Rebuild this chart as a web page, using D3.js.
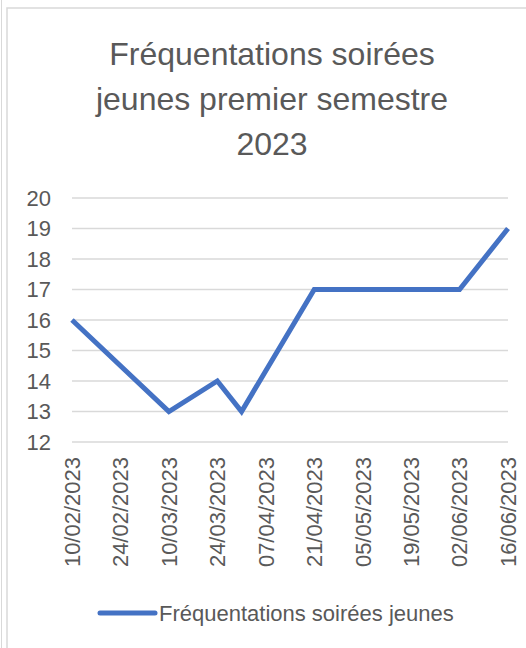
<!DOCTYPE html>
<html>
<head>
<meta charset="utf-8">
<script src="https://cdn.jsdelivr.net/npm/d3@7"></script>
<style>
  body { margin: 0; background: #fff; }
  svg { display: block; font-family: "Liberation Sans", Arial, sans-serif; }
</style>
</head>
<body>
<div id="chart"></div>
<script>
// data
var dates = ["2023-02-10", "2023-03-10", "2023-03-24", "2023-03-31", "2023-04-21",
             "2023-05-05", "2023-05-19", "2023-06-02", "2023-06-16"];
var values = [16, 13, 14, 13, 17, 17, 17, 17, 19];
var tickDates = ["2023-02-10", "2023-02-24", "2023-03-10", "2023-03-24", "2023-04-07",
                 "2023-04-21", "2023-05-05", "2023-05-19", "2023-06-02", "2023-06-16"];
var yTicks = [12, 13, 14, 15, 16, 17, 18, 19, 20];
var titleLines = ["Fréquentations soirées", "jeunes premier semestre", "2023"];
var seriesName = "Fréquentations soirées jeunes";

var W = 526, H = 648;
var parse = d3.timeParse("%Y-%m-%d");
var fmt = d3.timeFormat("%d/%m/%Y");
var points = dates.map(function (d, i) { return {date: parse(d), value: values[i]}; });

var svg = d3.select("#chart").append("svg")
  .attr("width", W)
  .attr("height", H);

// outer frames
svg.append("line")
  .attr("x1", 1.5).attr("y1", 0).attr("x2", 1.5).attr("y2", H)
  .style("stroke", "#d9d9d9").style("stroke-width", 1);
svg.append("rect")
  .attr("x", 7).attr("y", 8).attr("width", 540).attr("height", 660)
  .style("fill", "#fff").style("stroke", "#d9d9d9").style("stroke-width", 1.5);

// title
svg.append("g").selectAll("text")
  .data(titleLines)
  .enter().append("text")
  .attr("x", 272)
  .attr("y", function (d, i) { return 65 + i * 45; })
  .attr("text-anchor", "middle")
  .style("font-size", "32px")
  .style("fill", "#595959")
  .text(function (d) { return d; });

var x = d3.scaleTime()
  .domain([parse(tickDates[0]), parse(tickDates[tickDates.length - 1])])
  .range([72, 508]);
var y = d3.scaleLinear()
  .domain([12, 20])
  .range([442, 198]);

// gridlines
svg.append("g").selectAll("line")
  .data(yTicks)
  .enter().append("line")
  .attr("x1", 72).attr("x2", 508)
  .attr("y1", function (d) { return y(d); })
  .attr("y2", function (d) { return y(d); })
  .style("stroke", "#d9d9d9")
  .style("stroke-width", 1.5);

// y labels
svg.append("g").selectAll("text")
  .data(yTicks)
  .enter().append("text")
  .attr("x", 51)
  .attr("y", function (d) { return y(d); })
  .attr("dy", "0.35em")
  .attr("text-anchor", "end")
  .style("font-size", "22px")
  .style("fill", "#595959")
  .text(function (d) { return d; });

// x labels, rotated
svg.append("g").selectAll("text")
  .data(tickDates.map(parse))
  .enter().append("text")
  .attr("transform", function (d) { return "translate(" + x(d) + ",457) rotate(-90)"; })
  .attr("dy", "0.36em")
  .attr("text-anchor", "end")
  .style("font-size", "22px")
  .style("fill", "#595959")
  .text(function (d) { return fmt(d); });

// series line
var line = d3.line()
  .x(function (d) { return x(d.date); })
  .y(function (d) { return y(d.value); });
svg.append("path")
  .datum(points)
  .attr("d", line)
  .style("fill", "none")
  .style("stroke", "#4472c4")
  .style("stroke-width", 5)
  .style("stroke-linejoin", "miter");

// legend
svg.append("line")
  .attr("x1", 100).attr("x2", 155)
  .attr("y1", 613).attr("y2", 613)
  .style("stroke", "#4472c4")
  .style("stroke-width", 5)
  .style("stroke-linecap", "round");
svg.append("text")
  .attr("x", 159)
  .attr("y", 620.5)
  .style("font-size", "22px")
  .style("fill", "#595959")
  .text(seriesName);
</script>
</body>
</html>
